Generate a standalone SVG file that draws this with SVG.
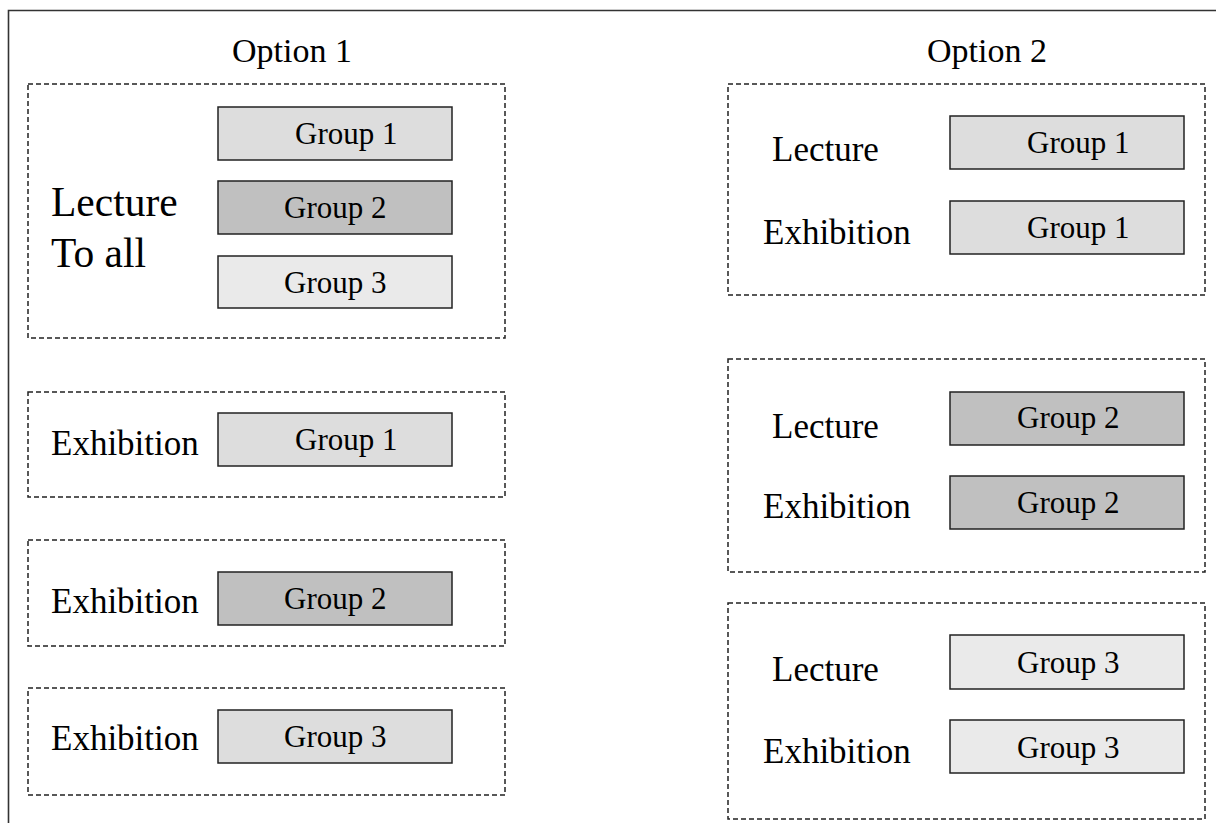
<svg xmlns="http://www.w3.org/2000/svg" width="1216" height="823" viewBox="0 0 1216 823">
<style>
text{font-family:"Liberation Serif","Times New Roman",serif;fill:#000}
.title{font-size:34px}
.lbl{font-size:35px}
.big{font-size:41.5px}
.grp{font-size:31px}
.dash{fill:none;stroke:#222;stroke-width:1.5;stroke-dasharray:5 3}
.box{stroke:#222;stroke-width:1.5}
.g1{fill:#dddddd}
.g2{fill:#c0c0c0}
.g3{fill:#eaeaea}
</style>
<rect width="1216" height="823" fill="#fff"/>
<path d="M8.5,823 V10.5 H1216" fill="none" stroke="#333" stroke-width="1.6"/>
<text class="title" x="292" y="62" text-anchor="middle">Option 1</text>
<text class="title" x="987" y="62" text-anchor="middle">Option 2</text>
<g id="connectors"></g>
<g id="opt1-lecture">
<rect class="dash" x="28" y="84" width="477" height="254"/>
<text class="big" x="51" y="216">Lecture</text>
<text class="big" x="51" y="267">To all</text>
<rect class="box g1" x="218" y="107" width="234" height="53"/>
<text class="grp" x="295" y="144">Group 1</text>
<rect class="box g2" x="218" y="181" width="234" height="53"/>
<text class="grp" x="284" y="218">Group 2</text>
<rect class="box g3" x="218" y="256" width="234" height="52"/>
<text class="grp" x="284" y="293">Group 3</text>
</g>
<g id="opt1-ex1">
<rect class="dash" x="28" y="392" width="477" height="105"/>
<text class="lbl" x="51" y="455">Exhibition</text>
<rect class="box g1" x="218" y="413" width="234" height="53"/>
<text class="grp" x="295" y="450">Group 1</text>
</g>
<g id="opt1-ex2">
<rect class="dash" x="28" y="540" width="477" height="106"/>
<text class="lbl" x="51" y="613">Exhibition</text>
<rect class="box g2" x="218" y="572" width="234" height="53"/>
<text class="grp" x="284" y="609">Group 2</text>
</g>
<g id="opt1-ex3">
<rect class="dash" x="28" y="688" width="477" height="107"/>
<text class="lbl" x="51" y="750">Exhibition</text>
<rect class="box g1" x="218" y="710" width="234" height="53"/>
<text class="grp" x="284" y="747">Group 3</text>
</g>
<g id="opt2-g1">
<rect class="dash" x="728" y="84" width="477" height="211"/>
<text class="lbl" x="772" y="161">Lecture</text>
<text class="lbl" x="763" y="244">Exhibition</text>
<rect class="box g1" x="950" y="116" width="234" height="53"/>
<text class="grp" x="1027" y="153">Group 1</text>
<rect class="box g1" x="950" y="201" width="234" height="53"/>
<text class="grp" x="1027" y="238">Group 1</text>
</g>
<g id="opt2-g2">
<rect class="dash" x="728" y="359" width="477" height="213"/>
<text class="lbl" x="772" y="438">Lecture</text>
<text class="lbl" x="763" y="518">Exhibition</text>
<rect class="box g2" x="950" y="392" width="234" height="53"/>
<text class="grp" x="1017" y="428">Group 2</text>
<rect class="box g2" x="950" y="476" width="234" height="53"/>
<text class="grp" x="1017" y="513">Group 2</text>
</g>
<g id="opt2-g3">
<rect class="dash" x="728" y="603" width="477" height="216"/>
<text class="lbl" x="772" y="681">Lecture</text>
<text class="lbl" x="763" y="763">Exhibition</text>
<rect class="box g3" x="950" y="635" width="234" height="54"/>
<text class="grp" x="1017" y="673">Group 3</text>
<rect class="box g3" x="950" y="720" width="234" height="53"/>
<text class="grp" x="1017" y="758">Group 3</text>
</g>
</svg>
